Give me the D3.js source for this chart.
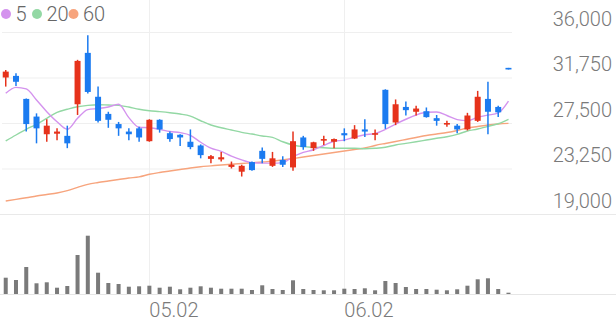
<!DOCTYPE html>
<html>
<head>
<meta charset="utf-8">
<script src="https://cdn.jsdelivr.net/npm/d3@7"></script>
<style>
  html, body { margin: 0; padding: 0; background: #fff; }
  svg { display: block; font-family: Roboto, "Noto Sans", sans-serif; }
</style>
</head>
<body>
<div id="app"></div>
<script>
// Daily candles with 5/20/60 moving averages and volume.

var dates = ["2025-04-11", "2025-04-14", "2025-04-15", "2025-04-16", "2025-04-17", "2025-04-18",
	"2025-04-21", "2025-04-22", "2025-04-23", "2025-04-24", "2025-04-25", "2025-04-28", "2025-04-29",
	"2025-04-30", "2025-05-02", "2025-05-07", "2025-05-08", "2025-05-09", "2025-05-12", "2025-05-13",
	"2025-05-14", "2025-05-15", "2025-05-16", "2025-05-19", "2025-05-20", "2025-05-21", "2025-05-22",
	"2025-05-23", "2025-05-26", "2025-05-27", "2025-05-28", "2025-05-29", "2025-05-30", "2025-06-02",
	"2025-06-04", "2025-06-05", "2025-06-09", "2025-06-10", "2025-06-11", "2025-06-12", "2025-06-13",
	"2025-06-16", "2025-06-17", "2025-06-18", "2025-06-19", "2025-06-20", "2025-06-23", "2025-06-24",
	"2025-06-25", "2025-06-26"];

var open  = [31750, 31900, 29750, 28100, 26450, 26500, 26300, 29250, 34050, 29950, 28350, 27400, 26700,
	27000, 25800, 27800, 26550, 26400, 25750, 25400, 24150, 24100, 23400, 22950, 23850, 24900, 23500,
	24050, 23350, 26150, 25150, 25850, 25750, 26550, 26050, 26900, 26400, 30600, 27550, 29000, 28550,
	28600, 27950, 27400, 27250, 26900, 27700, 29750, 29000, 32650];
var high  = [32450, 32150, 29800, 28400, 27850, 27000, 27250, 33400, 35700, 30900, 28550, 27600, 27000,
	27150, 27850, 27850, 26700, 26450, 26900, 25500, 24500, 24800, 23900, 23600, 23900, 25200, 24800,
	24400, 26700, 26300, 25750, 26300, 26050, 27000, 27300, 27850, 26900, 30650, 29700, 29500, 29100,
	28950, 28250, 27700, 27400, 28450, 30500, 31350, 29100, 32650];
var low   = [30900, 30950, 26700, 25600, 25750, 25900, 25150, 28250, 30250, 27550, 27050, 26300, 25900,
	25750, 25750, 26600, 25750, 25350, 25050, 24200, 23750, 23900, 23250, 22500, 23050, 23750, 23400,
	23400, 23050, 25000, 24900, 25450, 25150, 25800, 26000, 26200, 25900, 26950, 27300, 28200, 28200,
	28000, 27250, 27150, 26550, 26800, 27600, 26450, 28050, 32500];
var close = [32300, 31350, 27400, 27000, 27250, 26700, 25600, 33300, 30400, 27700, 27800, 27000, 26450,
	26150, 27800, 26900, 26000, 26150, 25250, 24500, 24400, 24300, 23600, 23500, 23100, 24150, 24200,
	23600, 25800, 25250, 25700, 26000, 26000, 26350, 26900, 26700, 26550, 27400, 29250, 28700, 28850,
	28050, 27700, 27500, 26900, 28200, 29950, 28550, 28500, 32500];

var ma5  = [30270, 30830, 30680, 29650, 28560, 27620, 26910, 27940, 28750, 28850, 29000, 29250, 28000,
	27100, 27050, 26900, 26700, 26600, 26350, 25700, 25150, 24850, 24400, 24050, 23800, 23750, 23750,
	23800, 24350, 24750, 25000, 25400, 25800, 25900, 26180, 26400, 26520, 26900, 27400, 27850, 28250,
	28500, 28530, 28200, 27820, 27720, 28040, 28230, 28440, 29550];
var ma20 = [25820, 26380, 26910, 27380, 27940, 28500, 28780, 29020, 29150, 29210, 29180, 29150, 28990,
	28780, 28650, 28560, 28460, 28340, 28150, 27710, 27310, 27060, 26850, 26630, 26470, 26290, 26160,
	25750, 25450, 25290, 25230, 25190, 25140, 25140, 25140, 25100, 25140, 25230, 25450, 25600, 25750,
	25910, 26070, 26220, 26440, 26750, 26940, 27190, 27430, 27850];
var ma60 = [20210, 20370, 20520, 20680, 20820, 20960, 21180, 21480, 21770, 21940, 22080, 22220, 22360,
	22470, 22710, 22880, 23020, 23160, 23300, 23420, 23500, 23580, 23650, 23720, 23790, 23860, 23950,
	24040, 24180, 24320, 24460, 24600, 24740, 24880, 25020, 25160, 25400, 25590, 25770, 25960, 26150,
	26330, 26470, 26610, 26800, 27030, 27170, 27310, 27410, 27470];

var volume = [815000, 700000, 1350000, 535000, 585000, 315000, 400000, 1950000, 2915000, 1065000,
	550000, 500000, 365000, 385000, 415000, 315000, 365000, 235000, 315000, 385000, 315000, 265000,
	265000, 265000, 200000, 435000, 250000, 200000, 685000, 250000, 200000, 185000, 185000, 265000,
	250000, 285000, 185000, 650000, 550000, 350000, 250000, 250000, 215000, 185000, 235000, 415000,
	735000, 785000, 250000, 65000];

var priceTicks = [19000, 23250, 27500, 31750, 36000];
var dateTicks = ["2025-05-02", "2025-06-02"];

var maSeries = [
	{name: "5", values: ma5, color: "#d493ee"},
	{name: "20", values: ma20, color: "#93d8a4"},
	{name: "60", values: ma60, color: "#f7a47d"}
];

var width = 616, height = 321;
var upColor = "#e6321b", downColor = "#1b7bf0";
var gridColor = "#efefef", textColor = "#7a7a7a";

var svg = d3.select("#app").append("svg")
	.attr("width", width).attr("height", height);

var x = d3.scaleBand().domain(dates).range([0.6, 513.6]).padding(0);
var y = d3.scaleLinear().domain([19000, 36000]).range([214, 32]);
var yVol = d3.scaleLinear().domain([0, d3.max(volume)]).range([294, 235.7]);
function cx (d) { return x(d) + x.bandwidth() / 2; }

// Grid
var grid = svg.append("g");
grid.selectAll("line.h").data(priceTicks.filter(function (v) { return v > 19000; }))
	.enter().append("line")
	.attr("x1", 2).attr("x2", 512)
	.attr("y1", function (d) { return y(d) + 0.5; }).attr("y2", function (d) { return y(d) + 0.5; })
	.attr("stroke", gridColor).attr("stroke-width", 1);
grid.selectAll("line.v").data(dateTicks)
	.enter().append("line")
	.attr("x1", function (d) { return Math.round(cx(d)) + 0.5; })
	.attr("x2", function (d) { return Math.round(cx(d)) + 0.5; })
	.attr("y1", 0).attr("y2", 294)
	.attr("stroke", gridColor).attr("stroke-width", 1);
// panel separator and volume baseline
grid.append("line").attr("x1", 0).attr("x2", width).attr("y1", y(19000) + 0.5).attr("y2", y(19000) + 0.5)
	.attr("stroke", "#e9e9e9");
grid.append("line").attr("x1", 0).attr("x2", width).attr("y1", 294.5).attr("y2", 294.5)
	.attr("stroke", "#e6e6e6");

// Volume bars
svg.append("g").selectAll("rect").data(dates)
	.enter().append("rect")
	.attr("x", function (d) { return cx(d) - 2; })
	.attr("width", 4)
	.attr("y", function (d, i) { return yVol(volume[i]); })
	.attr("height", function (d, i) { return yVol(0) - yVol(volume[i]); })
	.attr("fill", "#7a7a7a");

// Moving averages
var lineGen = function (values) {
	return d3.line()
		.x(function (d, i) { return cx(dates[i]); })
		.y(function (d) { return y(d); })
		.curve(d3.curveMonotoneX)(values);
};
svg.append("g").selectAll("path").data(maSeries.slice().reverse())
	.enter().append("path")
	.attr("d", function (s) { return lineGen(s.values); })
	.attr("fill", "none")
	.attr("stroke", function (s) { return s.color; })
	.attr("stroke-width", 1.4);

// Candles
var candles = svg.append("g").selectAll("g").data(dates)
	.enter().append("g");
function candleColor (i) { return close[i] >= open[i] ? upColor : downColor; }
candles.append("line")
	.attr("x1", function (d) { return cx(d); }).attr("x2", function (d) { return cx(d); })
	.attr("y1", function (d, i) { return y(high[i]); })
	.attr("y2", function (d, i) { return y(low[i]); })
	.attr("stroke", function (d, i) { return candleColor(i); })
	.attr("stroke-width", 1.5);
candles.append("rect")
	.attr("x", function (d) { return cx(d) - 3; })
	.attr("width", 6)
	.attr("y", function (d, i) { return y(Math.max(open[i], close[i])); })
	.attr("height", function (d, i) { return Math.max(1.6, Math.abs(y(open[i]) - y(close[i]))); })
	.attr("fill", function (d, i) { return candleColor(i); });

// Price axis
var yAxis = svg.append("g").attr("transform", "translate(612,0)")
	.call(d3.axisRight(y).tickValues(priceTicks).tickFormat(d3.format(",")).tickSize(0));
yAxis.select(".domain").remove();
yAxis.selectAll("text")
	.attr("x", 0).attr("y", -7).attr("dy", 0)
	.attr("text-anchor", "end")
	.attr("fill", textColor)
	.style("font-size", "20px").style("font-weight", 300).style("font-family", "Roboto, sans-serif");

// Date axis
var fmtDate = function (s) { return s.slice(5, 7) + "." + s.slice(8, 10); };
var xAxis = svg.append("g").attr("transform", "translate(0,0)")
	.call(d3.axisBottom(x).tickValues(dateTicks).tickFormat(fmtDate).tickSize(0));
xAxis.select(".domain").remove();
xAxis.selectAll("text")
	.attr("y", 317).attr("dy", 0).attr("x", 0)
	.attr("text-anchor", "start")
	.attr("fill", textColor)
	.style("font-size", "20px").style("font-weight", 300).style("font-family", "Roboto, sans-serif");

// Legend
var legend = svg.append("g");
var legendX = [6, 37, 73.5];
var items = legend.selectAll("g").data(maSeries).enter().append("g")
	.attr("transform", function (d, i) { return "translate(" + legendX[i] + ",14)"; });
items.append("circle").attr("r", 5).attr("fill", function (d) { return d.color; });
items.append("text").attr("x", 9.5).attr("y", 7)
	.attr("fill", "#666")
	.style("font-size", "20px").style("font-weight", 300)
	.text(function (d) { return d.name; });
</script>
</body>
</html>
